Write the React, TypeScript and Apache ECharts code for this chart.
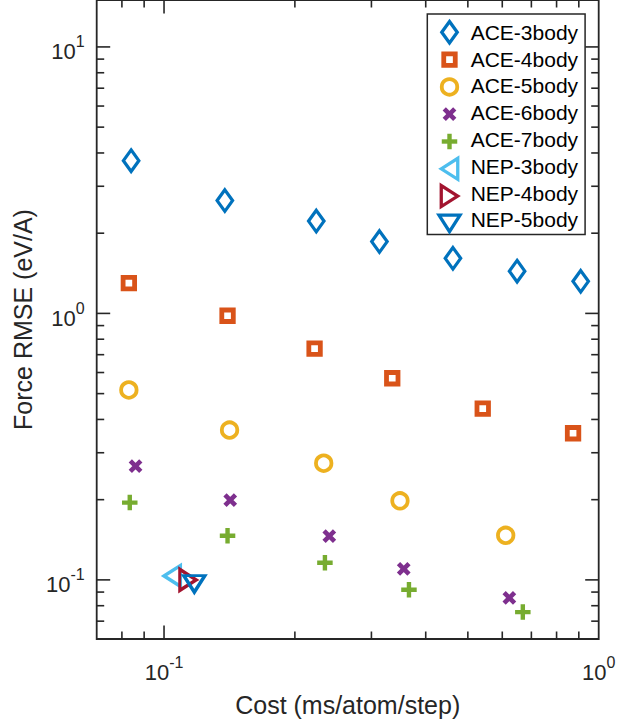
import React, { useEffect, useRef } from 'react';
import * as echarts from 'echarts';

const FONT = "'Liberation Sans', Arial, Helvetica, sans-serif";
const TEXT = '#262626';

// ---------- data ----------
const SERIES_NAMES = ['ACE-3body', 'ACE-4body', 'ACE-5body', 'ACE-6body', 'ACE-7body', 'NEP-3body', 'NEP-4body', 'NEP-5body'];

const ACE3_COST = [0.084, 0.138, 0.224, 0.313, 0.462, 0.649, 0.909];
const ACE3_RMSE = [3.74, 2.65, 2.22, 1.86, 1.61, 1.44, 1.32];
const ACE4_COST = [0.083, 0.140, 0.222, 0.335, 0.541, 0.873];
const ACE4_RMSE = [1.30, 0.98, 0.738, 0.571, 0.439, 0.355];
const ACE5_COST = [0.083, 0.1415, 0.233, 0.349, 0.611];
const ACE5_RMSE = [0.516, 0.365, 0.274, 0.198, 0.147];
const ACE6_COST = [0.086, 0.142, 0.240, 0.356, 0.623];
const ACE6_RMSE = [0.267, 0.199, 0.146, 0.110, 0.0856];
const ACE7_COST = [0.0834, 0.140, 0.2345, 0.366, 0.669];
const ACE7_RMSE = [0.195, 0.1465, 0.116, 0.0918, 0.0757];
const NEP3_COST = [0.1045];
const NEP3_RMSE = [0.1035];
const NEP4_COST = [0.1135];
const NEP4_RMSE = [0.100];
const NEP5_COST = [0.1174];
const NEP5_RMSE = [0.0966];

const COSTS = [ACE3_COST, ACE4_COST, ACE5_COST, ACE6_COST, ACE7_COST, NEP3_COST, NEP4_COST, NEP5_COST];
const RMSES = [ACE3_RMSE, ACE4_RMSE, ACE5_RMSE, ACE6_RMSE, ACE7_RMSE, NEP3_RMSE, NEP4_RMSE, NEP5_RMSE];

const X_MIN = 0.07;
const X_MAX = 1;
const Y_MIN = 0.06;
const Y_MAX = 15;
const X_TICKS = [0.08, 0.09, 0.1, 0.2, 0.3, 0.4, 0.5, 0.6, 0.7, 0.8, 0.9];
const Y_TICKS = [0.07, 0.08, 0.09, 0.1, 0.2, 0.3, 0.4, 0.5, 0.6, 0.7, 0.8, 0.9, 1, 2, 3, 4, 5, 6, 7, 8, 9, 10];

// ---------- marker styles ----------
type Marker = { kind: string; color: string; w: number; h: number; bw: number };
const MARKERS: Marker[] = [
  { kind: 'diamond', color: '#0072BD', w: 15.5, h: 21.5, bw: 3.3 },
  { kind: 'square', color: '#D95319', w: 11.5, h: 11.5, bw: 4.8 },
  { kind: 'circle', color: '#EDB120', w: 15.5, h: 15.5, bw: 3.8 },
  { kind: 'x', color: '#7E2F8E', w: 10.5, h: 10.5, bw: 4.6 },
  { kind: 'plus', color: '#77AC30', w: 15.5, h: 15.5, bw: 4.4 },
  { kind: 'tri-left', color: '#4DBEEE', w: 21, h: 16.5, bw: 3.3 },
  { kind: 'tri-right', color: '#A2142F', w: 21, h: 16.5, bw: 3.3 },
  { kind: 'tri-down', color: '#0072BD', w: 21, h: 16.5, bw: 3.3 },
];

function symbolOf(m: Marker): any {
  switch (m.kind) {
    case 'diamond': return { symbol: 'diamond', symbolSize: [m.w, m.h], symbolRotate: 0 };
    case 'square': return { symbol: 'rect', symbolSize: [m.w, m.h], symbolRotate: 0 };
    case 'circle': return { symbol: 'circle', symbolSize: m.w, symbolRotate: 0 };
    case 'x': return { symbol: 'path://M0,0L10,10M10,0L0,10', symbolSize: [m.w, m.h], symbolRotate: 0 };
    case 'plus': return { symbol: 'path://M5,0L5,10M0,5L10,5', symbolSize: [m.w, m.h], symbolRotate: 0 };
    case 'tri-left': return { symbol: 'triangle', symbolSize: [m.w, m.h], symbolRotate: 90 };
    case 'tri-right': return { symbol: 'triangle', symbolSize: [m.w, m.h], symbolRotate: -90 };
    case 'tri-down': return { symbol: 'triangle', symbolSize: [m.w, m.h], symbolRotate: 180 };
  }
  return {};
}

// ---------- legend layout ----------
const LEG_LEFT = 427.3;
const LEG_TOP = 14;
const LEG_PAD = [7.3, 7, 4, 6];
const LEG_ITEM_W = 32.4;
const LEG_ITEM_H = 22;
const LEG_GAP = 5.3;

function legendIcon(m: Marker, cx: number, cy: number): any {
  const style = { fill: 'none', stroke: m.color, lineWidth: m.bw };
  const z = 100;
  const w = m.w, h = m.h;
  switch (m.kind) {
    case 'diamond':
      return { type: 'polygon', z, shape: { points: [[cx, cy - h / 2], [cx + w / 2, cy], [cx, cy + h / 2], [cx - w / 2, cy]] }, style };
    case 'square':
      return { type: 'rect', z, shape: { x: cx - w / 2, y: cy - h / 2, width: w, height: h }, style };
    case 'circle':
      return { type: 'circle', z, shape: { cx, cy, r: w / 2 }, style };
    case 'x':
      return {
        type: 'group', children: [
          { type: 'line', z, shape: { x1: cx - w / 2, y1: cy - h / 2, x2: cx + w / 2, y2: cy + h / 2 }, style },
          { type: 'line', z, shape: { x1: cx + w / 2, y1: cy - h / 2, x2: cx - w / 2, y2: cy + h / 2 }, style },
        ],
      };
    case 'plus':
      return {
        type: 'group', children: [
          { type: 'line', z, shape: { x1: cx, y1: cy - h / 2, x2: cx, y2: cy + h / 2 }, style },
          { type: 'line', z, shape: { x1: cx - w / 2, y1: cy, x2: cx + w / 2, y2: cy }, style },
        ],
      };
    case 'tri-left':
      return { type: 'polygon', z, shape: { points: [[cx - h / 2, cy], [cx + h / 2, cy - w / 2], [cx + h / 2, cy + w / 2]] }, style };
    case 'tri-right':
      return { type: 'polygon', z, shape: { points: [[cx + h / 2, cy], [cx - h / 2, cy - w / 2], [cx - h / 2, cy + w / 2]] }, style };
    case 'tri-down':
      return { type: 'polygon', z, shape: { points: [[cx - w / 2, cy - h / 2], [cx + w / 2, cy - h / 2], [cx, cy + h / 2]] }, style };
  }
  return null;
}

const isPow10 = (v: number) => Math.abs(Math.log10(v) - Math.round(Math.log10(v))) < 1e-6;

const labelFormatter = (v: number) => {
  if (!isPow10(v)) return '';
  const e = Math.round(Math.log10(v));
  return `{b|10}{s|${e}}`;
};

// base pushed down by its top padding, exponent pushed up by its bottom padding
const richLabel = {
  b: { fontFamily: FONT, fontSize: 22, color: TEXT, lineHeight: 26, verticalAlign: 'middle', padding: [10, 0, 0, 0] },
  s: { fontFamily: FONT, fontSize: 16, color: TEXT, lineHeight: 26, verticalAlign: 'middle', padding: [0, 0, 10, 0] },
};

const TICK_MAJOR = 13.5;
const TICK_MINOR = 7.5;
const TICK_STYLE = { stroke: TEXT, lineWidth: 1.6 };

function buildOption(): any {
  const scatterSeries = SERIES_NAMES.map((name, i) => {
    const m = MARKERS[i];
    return {
      name,
      type: 'scatter',
      ...symbolOf(m),
      itemStyle: { color: 'rgba(0,0,0,0)', borderColor: m.color, borderWidth: m.bw, opacity: 1 },
      emphasis: { disabled: true },
      z: 3,
      data: COSTS[i].map((c, j) => [c, RMSES[i][j]]),
    };
  });

  const xTickSeries = {
    type: 'custom',
    silent: true,
    z: 2,
    data: X_TICKS.map((v) => [v, Y_MIN]),
    renderItem: (params: any, api: any) => {
      const v = api.value(0);
      const p = api.coord([v, Y_MIN]);
      const cs = params.coordSys;
      const len = isPow10(v) ? TICK_MAJOR : TICK_MINOR;
      const bottom = cs.y + cs.height;
      return {
        type: 'group',
        children: [
          { type: 'line', shape: { x1: p[0], y1: bottom, x2: p[0], y2: bottom - len }, style: TICK_STYLE },
          { type: 'line', shape: { x1: p[0], y1: cs.y, x2: p[0], y2: cs.y + len }, style: TICK_STYLE },
        ],
      };
    },
  };

  const yTickSeries = {
    type: 'custom',
    silent: true,
    z: 2,
    data: Y_TICKS.map((v) => [X_MIN, v]),
    renderItem: (params: any, api: any) => {
      const v = api.value(1);
      const p = api.coord([X_MIN, v]);
      const cs = params.coordSys;
      const len = isPow10(v) ? TICK_MAJOR : TICK_MINOR;
      const right = cs.x + cs.width;
      return {
        type: 'group',
        children: [
          { type: 'line', shape: { x1: cs.x, y1: p[1], x2: cs.x + len, y2: p[1] }, style: TICK_STYLE },
          { type: 'line', shape: { x1: right, y1: p[1], x2: right - len, y2: p[1] }, style: TICK_STYLE },
        ],
      };
    },
  };

  const iconCx = LEG_LEFT + LEG_PAD[3] + LEG_ITEM_W / 2;
  const icons = MARKERS.map((m, i) =>
    legendIcon(m, iconCx, LEG_TOP + LEG_PAD[0] + LEG_ITEM_H / 2 + i * (LEG_ITEM_H + LEG_GAP))
  );

  return {
    animation: false,
    backgroundColor: '#fff',
    textStyle: { fontFamily: FONT },
    grid: {
      left: 96.7, right: 35.3, top: -1, bottom: 84,
      show: true, borderColor: TEXT, borderWidth: 1.8, backgroundColor: '#fff',
    },
    xAxis: {
      type: 'log', logBase: 10, min: X_MIN, max: X_MAX,
      name: 'Cost (ms/atom/step)', nameLocation: 'middle', nameGap: 53,
      nameTextStyle: { fontFamily: FONT, fontSize: 25, color: TEXT },
      axisLine: { show: false }, axisTick: { show: false }, splitLine: { show: false },
      axisLabel: { margin: 15, formatter: labelFormatter, rich: richLabel, fontFamily: FONT, fontSize: 22, color: TEXT },
    },
    yAxis: {
      type: 'log', logBase: 10, min: Y_MIN, max: Y_MAX,
      name: 'Force RMSE (eV/A)', nameLocation: 'middle', nameGap: 60,
      nameTextStyle: { fontFamily: FONT, fontSize: 25, color: TEXT },
      axisLine: { show: false }, axisTick: { show: false }, splitLine: { show: false },
      axisLabel: { margin: 12, formatter: labelFormatter, rich: richLabel, fontFamily: FONT, fontSize: 22, color: TEXT },
    },
    legend: {
      orient: 'vertical',
      left: LEG_LEFT, top: LEG_TOP,
      padding: LEG_PAD,
      itemWidth: LEG_ITEM_W, itemHeight: LEG_ITEM_H, itemGap: LEG_GAP,
      backgroundColor: '#fff', borderColor: TEXT, borderWidth: 1.5, borderRadius: 0,
      selectedMode: false,
      textStyle: { fontFamily: FONT, fontSize: 21, color: '#000' },
      data: SERIES_NAMES.map((name) => ({ name, icon: 'none' })),
    },
    graphic: icons,
    series: [xTickSeries, yTickSeries, ...scatterSeries],
  };
}

export default function App() {
  const ref = useRef<HTMLDivElement>(null);
  useEffect(() => {
    const chart = echarts.init(ref.current!, null, { renderer: 'svg' });
    chart.setOption(buildOption());
    return () => chart.dispose();
  }, []);
  return <div ref={ref} style={{ position: 'absolute', left: 0, top: 0, width: 634, height: 723 }} />;
}
